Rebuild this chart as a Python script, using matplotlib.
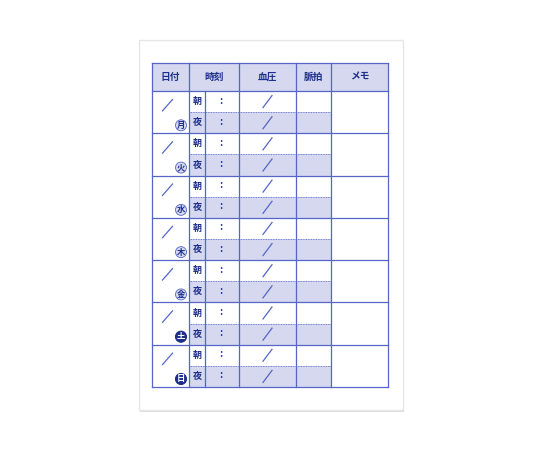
import matplotlib
matplotlib.use("Agg")
import matplotlib.pyplot as plt
from matplotlib.patches import Rectangle, Circle

plt.rcParams['font.family'] = ['Noto Sans CJK JP', 'DejaVu Sans']

headers = ["日付", "時刻", "血圧", "脈拍", "メモ"]
days = ["月", "火", "水", "木", "金", "土", "日"]
weekend = [False, False, False, False, False, True, True]
times = ["朝", "夜"]

LINE = "#5566c8"
FILL = "#d5d8ee"
TEXT = "#1e2f8c"

fig = plt.figure(figsize=(5.4, 4.5), dpi=100)
ax = fig.add_axes([0, 0, 1, 1])
ax.set_xlim(0, 540); ax.set_ylim(450, 0); ax.axis('off')

# paper with shadow
ax.add_patch(Rectangle((140, 42), 264, 370, facecolor="#dcdcdc", edgecolor='none'))
ax.add_patch(Rectangle((139, 40), 264, 370, facecolor="white", edgecolor="#e6e6e6", lw=1))

cols = [152, 189, 239, 296, 331, 388]
inner = 205
top, hb = 63, 91
rowh = (387 - 91) / len(days)

ax.add_patch(Rectangle((cols[0], top), cols[-1]-cols[0], hb-top, facecolor=FILL, edgecolor='none'))
for i, h in enumerate(headers):
    ax.text((cols[i]+cols[i+1])/2, (top+hb)/2, h, ha='center', va='center', fontsize=7,
            color=TEXT, fontweight='bold')

for r, d in enumerate(days):
    y0 = hb + r*rowh
    ym = y0 + rowh/2
    ax.add_patch(Rectangle((cols[1], ym), cols[4]-cols[1], rowh/2, facecolor=FILL, edgecolor='none'))
    ax.plot([cols[1], cols[4]], [ym, ym], color=LINE, lw=0.6, ls=(0, (1, 1)))
    for k, t in enumerate(times):
        yc = y0 + rowh/4 + k*rowh/2
        ax.text((cols[1]+inner)/2, yc, t, ha='center', va='center', fontsize=6.5, color=TEXT, fontweight='bold')
        ax.text((inner+cols[2])/2 - 1, yc - 1, ":", ha='center', va='center', fontsize=7, color=TEXT, fontweight='bold')
        cx = (cols[2]+cols[3])/2
        ax.plot([cx-4.5, cx+4.5], [yc+6, yc-6], color=LINE, lw=0.9)
    dx = (cols[0]+cols[1])/2 - 3
    ax.plot([dx-5, dx+5], [y0+rowh*0.47, y0+rowh*0.2], color=LINE, lw=0.9)
    cx, cy = cols[1]-8, y0 + rowh - 8
    if weekend[r]:
        ax.add_patch(Circle((cx, cy), 5.5, facecolor=TEXT, edgecolor=TEXT, lw=0.8))
        tc = "white"
    else:
        ax.add_patch(Circle((cx, cy), 5.5, facecolor=FILL, edgecolor=LINE, lw=0.6))
        tc = TEXT
    ax.text(cx, cy, d, ha='center', va='center', fontsize=6, color=tc, fontweight='bold')
    ax.plot([cols[0], cols[-1]], [y0+rowh, y0+rowh], color=LINE, lw=0.9)

for x in cols:
    ax.plot([x, x], [top, 387], color=LINE, lw=0.9)
ax.plot([inner, inner], [hb, 387], color=LINE, lw=0.9)
ax.plot([cols[0], cols[-1]], [top, top], color=LINE, lw=0.9)
ax.plot([cols[0], cols[-1]], [hb, hb], color=LINE, lw=0.9)

fig.savefig("out.png", dpi=100, facecolor="white")
